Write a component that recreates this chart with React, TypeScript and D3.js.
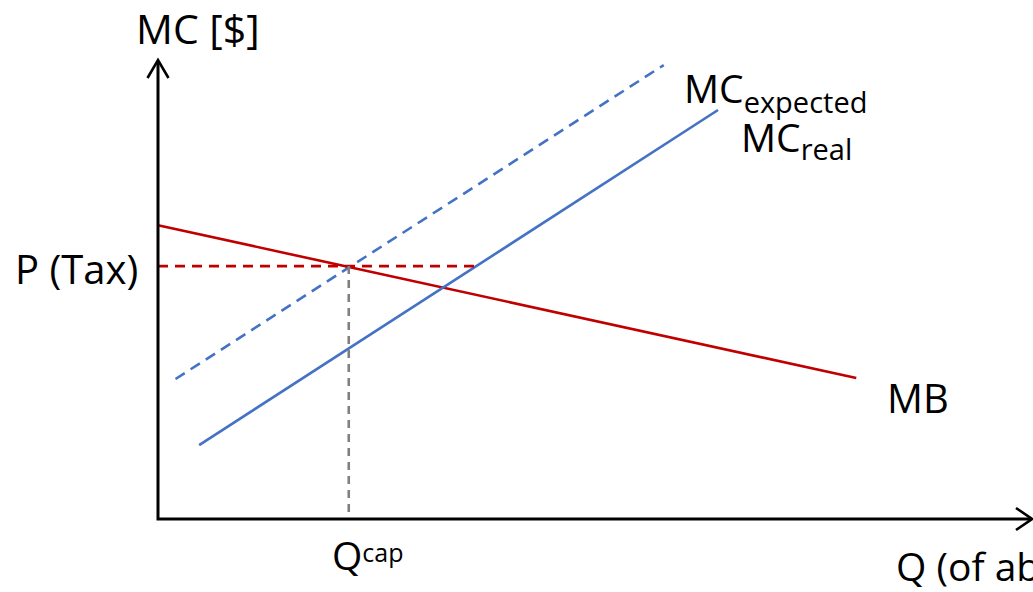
import React from "react";
import * as d3 from "d3";

// Abstract units: quantity Q on x (0..100), cost/price on y (0..100)
const mcExpected: [number, number][] = [[2.0, 30.5], [57.8, 98.9]];
const mcReal: [number, number][] = [[4.7, 16.1], [64.0, 89.1]];
const mb: [number, number][] = [[0, 64.0], [79.8, 30.7]];
const taxPrice = 55.1;
const taxLineEnd = 36.6;
const qCap = 21.8;

const W = 1033;
const H = 592;

export default function App() {
  const x = d3.scaleLinear().domain([0, 100]).range([158, 1033]);
  const y = d3.scaleLinear().domain([0, 100]).range([519, 60]);
  const line = d3
    .line<[number, number]>()
    .x((d) => x(d[0]))
    .y((d) => y(d[1]));

  const font = "'Open Sans', sans-serif";
  const x0 = x(0);
  const y0 = y(0);
  const yTop = y(100);
  const xEnd = x(100) - 1;

  return (
    <svg
      width={W}
      height={H}
      style={{ position: "absolute", left: 0, top: 0, background: "#fff" }}
      fontFamily={font}
    >
      {/* MB */}
      <path d={line(mb) || ""} stroke="#C00000" strokeWidth={2.6} fill="none" />
      {/* MC expected dashed */}
      <path
        d={line(mcExpected) || ""}
        stroke="#4472C4"
        strokeWidth={2.6}
        strokeDasharray="11 7"
        fill="none"
      />
      {/* MC real */}
      <path d={line(mcReal) || ""} stroke="#4472C4" strokeWidth={2.6} fill="none" />
      {/* tax line */}
      <line
        x1={x0}
        x2={x(taxLineEnd)}
        y1={y(taxPrice)}
        y2={y(taxPrice)}
        stroke="#C00000"
        strokeWidth={2.6}
        strokeDasharray="10 7"
      />
      {/* Q cap */}
      <line
        x1={x(qCap)}
        x2={x(qCap)}
        y1={y(taxPrice)}
        y2={y0}
        stroke="#808080"
        strokeWidth={2.6}
        strokeDasharray="8 6"
      />
      {/* axes */}
      <path
        d={`M${x0},${yTop + 1} L${x0},${y0} L${xEnd},${y0}`}
        stroke="#000"
        strokeWidth={3}
        fill="none"
      />
      <path
        d={`M${x0 - 10.5},${yTop + 18} L${x0},${yTop} L${x0 + 10.5},${yTop + 18}`}
        stroke="#000"
        strokeWidth={2.6}
        fill="none"
      />
      <path
        d={`M${xEnd - 16},${y0 - 11} L${xEnd},${y0} L${xEnd - 16},${y0 + 11}`}
        stroke="#000"
        strokeWidth={2.6}
        fill="none"
      />
      {/* labels */}
      <text x={136} y={44} fontSize={41} fill="#000">MC [$]</text>
      <text x={15} y={284} fontSize={40} fill="#000">P (Tax)</text>
      <text x={332} y={570} fontSize={39} fill="#000">
        Q<tspan fontSize={25} dy={-8}>cap</tspan>
      </text>
      <text x={896} y={581} fontSize={39} fill="#000">Q (of abatement)</text>
      <text x={887} y={413} fontSize={40} fill="#000">MB</text>
      <text x={684} y={103} fontSize={39} fill="#000">
        MC<tspan fontSize={29} dy={10}>expected</tspan>
      </text>
      <text x={741} y={152} fontSize={39} fill="#000">
        MC<tspan fontSize={29} dy={8}>real</tspan>
      </text>
    </svg>
  );
}
